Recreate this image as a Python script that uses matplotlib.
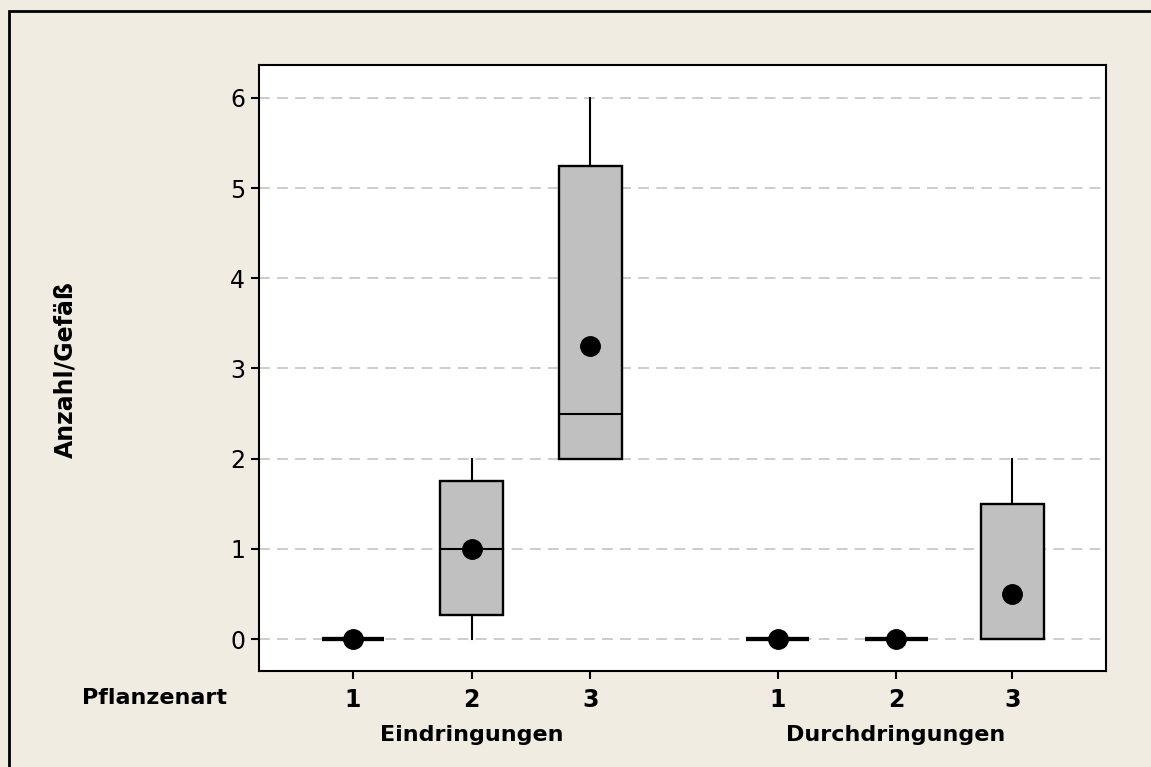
import matplotlib
matplotlib.use("Agg")
import matplotlib.pyplot as plt
from matplotlib.patches import Rectangle

# data
groups = ["Eindringungen", "Durchdringungen"]
species = ["1", "2", "3", "1", "2", "3"]
positions = [1, 2, 3, 4.58, 5.58, 6.56]
whislo = [0, 0, 2, 0, 0, 0]
q1 = [0, 0.27, 2, 0, 0, 0]
med = [0, 1, 2.5, 0, 0, 0]
q3 = [0, 1.75, 5.25, 0, 0, 1.5]
whishi = [0, 2, 6, 0, 0, 2]
means = [0, 1, 3.25, 0, 0, 0.5]

bg = "#f0ece2"

fig = plt.figure(figsize=(11.51, 7.67), dpi=100, facecolor=bg)
ax = fig.add_axes([259/1151, 1 - 671/767, (1106-259)/1151, (671-65)/767])

stats = []
for i in range(len(positions)):
    stats.append(dict(whislo=whislo[i], q1=q1[i], med=med[i], q3=q3[i],
                      whishi=whishi[i], mean=means[i], fliers=[]))

bp = ax.bxp(stats, positions=positions, widths=0.53, patch_artist=True,
            showmeans=True, showcaps=False, manage_ticks=False,
            boxprops=dict(facecolor="#c0c0c0", edgecolor="black", linewidth=1.7),
            medianprops=dict(color="black", linewidth=1.5),
            whiskerprops=dict(color="black", linewidth=1.5),
            meanprops=dict(marker="o", markerfacecolor="black",
                           markeredgecolor="black", markersize=14),
            zorder=3)

# flat boxes (all values zero) look thicker in the original
for i, box in enumerate(bp["boxes"]):
    if q1[i] == q3[i]:
        box.set_linewidth(3)
        bp["medians"][i].set_linewidth(3)

ax.set_xlim(0.207, 7.35)
ax.set_ylim(-0.354, 6.365)
ax.set_yticks(range(7))
ax.set_xticks(positions)
ax.set_xticklabels(species, fontweight="bold")
ax.tick_params(axis="both", labelsize=17, length=6, width=1.5, color="black")
ax.tick_params(axis="x", pad=6)
ax.tick_params(axis="y", pad=4)
ax.yaxis.grid(True, linestyle=(0, (6, 4)), color="#c8c8c8", linewidth=1.3)
ax.set_axisbelow(True)
for s in ax.spines.values():
    s.set_linewidth(1.5)

fig.text(65/1151, 1 - 370/767, "Anzahl/Gefäß", fontsize=17, fontweight="bold",
         rotation=90, ha="center", va="center")
fig.text(154/1151, 1 - 698/767, "Pflanzenart", fontsize=16, fontweight="bold",
         ha="center", va="center")
fig.text(ax.transData.transform((2, 0))[0] / fig.bbox.width, 1 - 735/767, groups[0],
         fontsize=16, fontweight="bold", ha="center", va="center")
fig.text(ax.transData.transform((5.58, 0))[0] / fig.bbox.width, 1 - 735/767, groups[1],
         fontsize=16, fontweight="bold", ha="center", va="center")

# outer frame
fig.patches.append(Rectangle((9/1151, -0.05), 1.1, 1 - 11/767 + 0.05,
                             transform=fig.transFigure, fill=False,
                             edgecolor="black", linewidth=2))

fig.savefig("out.png", dpi=100, facecolor=bg)
